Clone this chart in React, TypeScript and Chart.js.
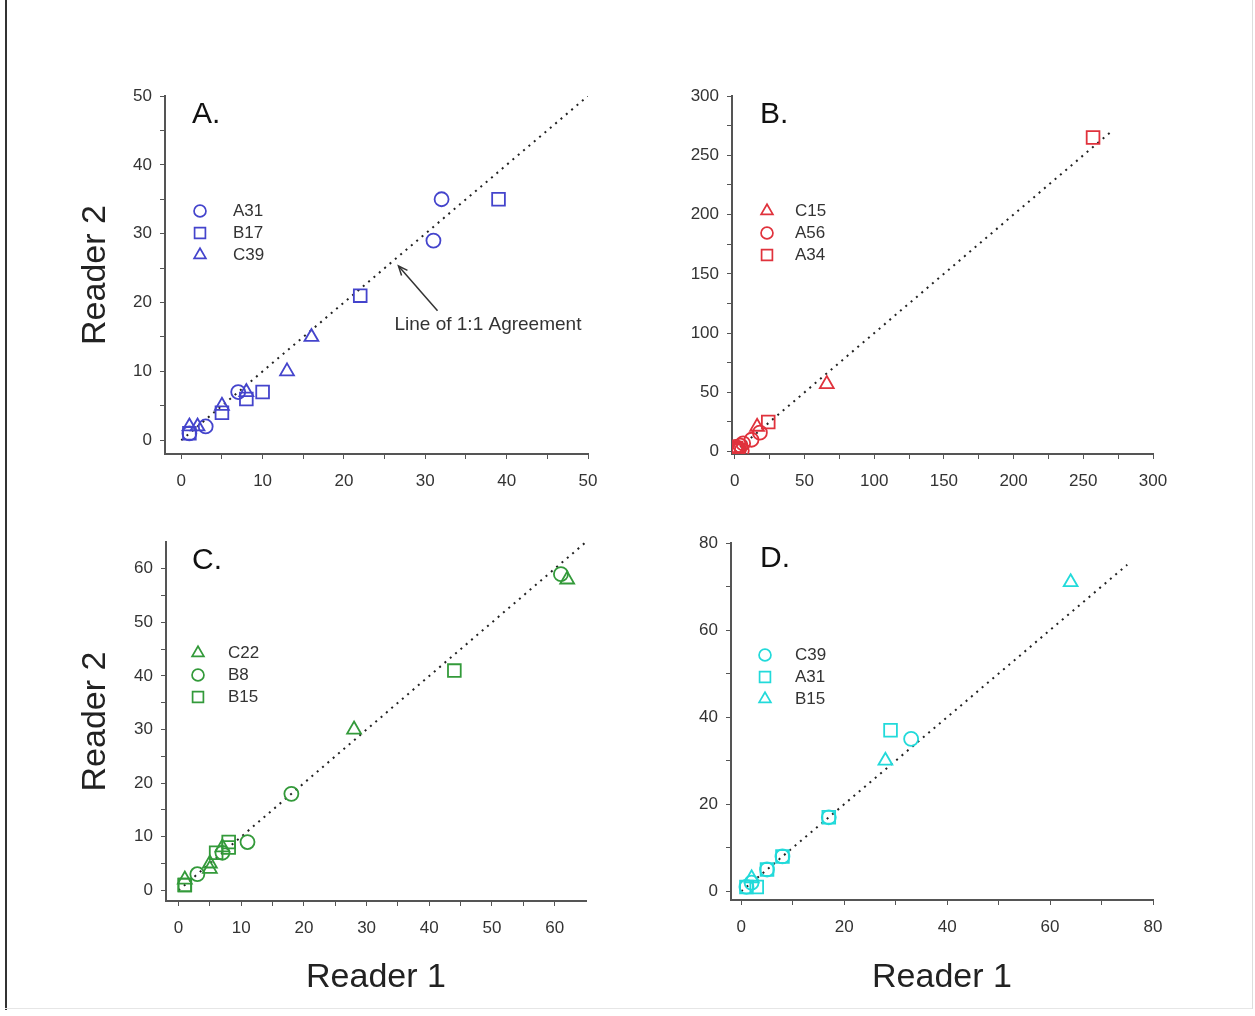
import React, { useEffect, useRef } from 'react';
import { Chart, registerables } from 'chart.js';

Chart.register(...registerables);

const W = 1255;
const H = 1016;
const FONT = '"Liberation Sans", Arial, Helvetica, sans-serif';

// ---------- Panel A ----------
const aA31X = [32, 31, 7, 3, 1];
const aA31Y = [35, 29, 7, 2, 1];
const aB17X = [39, 22, 10, 8, 5, 1];
const aB17Y = [35, 21, 7, 6, 4, 1];
const aC39X = [16, 13, 8, 5, 1, 2];
const aC39Y = [15, 10, 7, 5, 2, 2];
const aTicks = [0, 5, 10, 15, 20, 25, 30, 35, 40, 45, 50];

// ---------- Panel B ----------
const bC15X = [66, 16, 2];
const bC15Y = [57, 21, 3];
const bA56X = [18, 12, 6, 4, 3, 2, 1, 5, 0.5];
const bA56Y = [16, 10, 7, 5, 2, 3, 1, 1, 4];
const bA34X = [257, 24, 2, 1];
const bA34Y = [265, 25, 1, 3];
const bTicks = [0, 25, 50, 75, 100, 125, 150, 175, 200, 225, 250, 275, 300];

// ---------- Panel C ----------
const cC22X = [62, 28, 7, 5, 5, 1];
const cC22Y = [58, 30, 8, 5, 4, 2];
const cB8X = [61, 18, 11, 3, 7];
const cB8Y = [59, 18, 9, 3, 7];
const cB15X = [44, 8, 8, 6, 1, 1];
const cB15Y = [41, 9, 8, 7, 1, 1];
const cTicks = [0, 5, 10, 15, 20, 25, 30, 35, 40, 45, 50, 55, 60];

// ---------- Panel D ----------
const dC39X = [33, 17, 8, 5, 2, 1];
const dC39Y = [35, 17, 8, 5, 2, 1];
const dA31X = [29, 17, 8, 5, 3, 1];
const dA31Y = [37, 17, 8, 5, 1, 1];
const dB15X = [64, 28, 2];
const dB15Y = [71, 30, 3];
const dXTicks = [0, 10, 20, 30, 40, 50, 60, 70, 80];
const dYTicks = [0, 10, 20, 30, 40, 50, 60, 70, 80];

// 1:1 agreement line end values
const lineEndA = 50;
const lineEndB = 270;
const lineEndC = 65;
const lineEndD = 75;

// annotation in panel A (data coordinates)
const annotText = 'Line of 1:1 Agreement';
const annotTip = { x: 26.7, y: 25.3 };
const annotTail = { x: 31.5, y: 18.8 };
const annotLabel = { x: 37.7, y: 16.7 };

type Shape = 'circle' | 'rect' | 'triangle';
type Series = { label: string; shape: Shape; xs: number[]; ys: number[] };

const RADIUS: Record<Shape, number> = { circle: 7, rect: 9, triangle: 8 };

interface PanelCfg {
  letter: string;
  color: string;
  series: Series[];
  lineEnd: number;
  xMin: number; xMax: number; yMin: number; yMax: number;
  xTicks: number[]; yTicks: number[]; xMajor: number; yMajor: number;
  area: [number, number, number, number]; // L T R B
  yW: number; xH: number;
  yTitle?: string; xTitle?: string;
  letterOff: [number, number];
  legendOff: [number, number, number, number]; // markerDx, textDx, firstRowDy, rowStep
  annotation?: boolean;
}

const panels: PanelCfg[] = [
  {
    letter: 'A.', color: '#4444cc',
    series: [
      { label: 'A31', shape: 'circle', xs: aA31X, ys: aA31Y },
      { label: 'B17', shape: 'rect', xs: aB17X, ys: aB17Y },
      { label: 'C39', shape: 'triangle', xs: aC39X, ys: aC39Y },
    ],
    lineEnd: lineEndA,
    xMin: -2, xMax: 50, yMin: -2, yMax: 50,
    xTicks: aTicks, yTicks: aTicks, xMajor: 10, yMajor: 10,
    area: [165, 96, 588, 454], yW: 90, xH: 40,
    yTitle: 'Reader 2',
    letterOff: [27, 19], legendOff: [35, 68, 115, 22],
    annotation: true,
  },
  {
    letter: 'B.', color: '#e0323c',
    series: [
      { label: 'C15', shape: 'triangle', xs: bC15X, ys: bC15Y },
      { label: 'A56', shape: 'circle', xs: bA56X, ys: bA56Y },
      { label: 'A34', shape: 'rect', xs: bA34X, ys: bA34Y },
    ],
    lineEnd: lineEndB,
    xMin: -2, xMax: 300, yMin: -2, yMax: 300,
    xTicks: bTicks, yTicks: bTicks, xMajor: 50, yMajor: 50,
    area: [732, 96, 1153, 454], yW: 60, xH: 40,
    letterOff: [28, 19], legendOff: [35, 63, 115, 22],
  },
  {
    letter: 'C.', color: '#339a3a',
    series: [
      { label: 'C22', shape: 'triangle', xs: cC22X, ys: cC22Y },
      { label: 'B8', shape: 'circle', xs: cB8X, ys: cB8Y },
      { label: 'B15', shape: 'rect', xs: cB15X, ys: cB15Y },
    ],
    lineEnd: lineEndC,
    xMin: -2, xMax: 65, yMin: -2, yMax: 65,
    xTicks: cTicks, yTicks: cTicks, xMajor: 10, yMajor: 10,
    area: [166, 542, 586, 901], yW: 91, xH: 97,
    yTitle: 'Reader 2', xTitle: 'Reader 1',
    letterOff: [26, 19], legendOff: [32, 62, 111, 22],
  },
  {
    letter: 'D.', color: '#22dada',
    series: [
      { label: 'C39', shape: 'circle', xs: dC39X, ys: dC39Y },
      { label: 'A31', shape: 'rect', xs: dA31X, ys: dA31Y },
      { label: 'B15', shape: 'triangle', xs: dB15X, ys: dB15Y },
    ],
    lineEnd: lineEndD,
    xMin: -2, xMax: 80, yMin: -2, yMax: 80,
    xTicks: dXTicks, yTicks: dYTicks, xMajor: 20, yMajor: 20,
    area: [731, 543, 1153, 900], yW: 60, xH: 98,
    xTitle: 'Reader 1',
    letterOff: [29, 16], legendOff: [34, 64, 112, 22],
  },
];

function drawShape(ctx: CanvasRenderingContext2D, shape: Shape, x: number, y: number, r: number) {
  ctx.beginPath();
  if (shape === 'circle') {
    ctx.arc(x, y, r, 0, Math.PI * 2);
  } else if (shape === 'rect') {
    const s = r * Math.SQRT1_2;
    ctx.rect(x - s, y - s, 2 * s, 2 * s);
  } else {
    let a = 0;
    ctx.moveTo(x + Math.sin(a) * r, y - Math.cos(a) * r);
    a += (2 * Math.PI) / 3;
    ctx.lineTo(x + Math.sin(a) * r, y - Math.cos(a) * r);
    a += (2 * Math.PI) / 3;
    ctx.lineTo(x + Math.sin(a) * r, y - Math.cos(a) * r);
  }
  ctx.closePath();
  ctx.stroke();
}

const decorPlugin = {
  id: 'decor',
  afterDraw(chart: any, _args: any, opts: any) {
    const cfg: PanelCfg = opts.cfg;
    if (!cfg) return;
    const { ctx, chartArea } = chart;
    ctx.save();
    // panel letter
    ctx.fillStyle = '#111';
    ctx.font = `30px ${FONT}`;
    ctx.textAlign = 'left';
    ctx.textBaseline = 'middle';
    ctx.fillText(cfg.letter, chartArea.left + cfg.letterOff[0], chartArea.top + cfg.letterOff[1]);
    // legend
    const [mdx, tdx, fdy, step] = cfg.legendOff;
    cfg.series.forEach((s, i) => {
      const y = chartArea.top + fdy + i * step;
      ctx.strokeStyle = cfg.color;
      ctx.lineWidth = 1.7;
      drawShape(ctx, s.shape, chartArea.left + mdx, y, RADIUS[s.shape] * 0.85);
      ctx.fillStyle = '#333';
      ctx.font = `17px ${FONT}`;
      ctx.textAlign = 'left';
      ctx.textBaseline = 'middle';
      ctx.fillText(s.label, chartArea.left + tdx, y);
    });
    // annotation
    if (cfg.annotation) {
      const xs = chart.scales.x;
      const ys = chart.scales.y;
      const tx = xs.getPixelForValue(annotTip.x);
      const ty = ys.getPixelForValue(annotTip.y);
      const sx = xs.getPixelForValue(annotTail.x);
      const sy = ys.getPixelForValue(annotTail.y);
      ctx.strokeStyle = '#333';
      ctx.lineWidth = 1.5;
      ctx.beginPath();
      ctx.moveTo(sx, sy);
      ctx.lineTo(tx, ty);
      ctx.stroke();
      const ang = Math.atan2(ty - sy, tx - sx);
      const hl = 10;
      ctx.beginPath();
      ctx.moveTo(tx + Math.cos(ang + Math.PI - 0.4) * hl, ty + Math.sin(ang + Math.PI - 0.4) * hl);
      ctx.lineTo(tx, ty);
      ctx.lineTo(tx + Math.cos(ang + Math.PI + 0.4) * hl, ty + Math.sin(ang + Math.PI + 0.4) * hl);
      ctx.stroke();
      ctx.fillStyle = '#333';
      ctx.font = `19px ${FONT}`;
      ctx.textAlign = 'center';
      ctx.textBaseline = 'middle';
      ctx.fillText(annotText, xs.getPixelForValue(annotLabel.x), ys.getPixelForValue(annotLabel.y));
    }
    ctx.restore();
  },
};

function buildConfig(cfg: PanelCfg): any {
  const [L, T, R, B] = cfg.area;
  const padding = {
    left: L - cfg.yW,
    top: T,
    right: W - R,
    bottom: H - B - cfg.xH,
  };
  const datasets: any[] = cfg.series.map((s) => ({
    label: s.label,
    data: s.xs.map((x, i) => ({ x, y: s.ys[i] })),
    pointStyle: s.shape,
    pointRadius: RADIUS[s.shape],
    pointBorderWidth: 1.8,
    pointBorderColor: cfg.color,
    pointBackgroundColor: 'rgba(0,0,0,0)',
    showLine: false,
  }));
  datasets.push({
    label: '1:1',
    data: [{ x: 0, y: 0 }, { x: cfg.lineEnd, y: cfg.lineEnd }],
    showLine: true,
    pointRadius: 0,
    borderColor: '#222',
    borderWidth: 2,
    borderDash: [2, 5],
    fill: false,
  });
  const tickFont = { size: 17, family: FONT };
  const titleFont = { size: 34, family: FONT };
  return {
    type: 'scatter',
    data: { datasets },
    plugins: [decorPlugin],
    options: {
      responsive: false,
      animation: false,
      events: [],
      layout: { padding },
      plugins: {
        legend: { display: false },
        tooltip: { enabled: false },
        decor: { cfg },
      },
      scales: {
        x: {
          type: 'linear',
          min: cfg.xMin,
          max: cfg.xMax,
          afterBuildTicks: (s: any) => { s.ticks = cfg.xTicks.map((v) => ({ value: v })); },
          afterFit: (s: any) => { s.height = cfg.xH; },
          ticks: {
            autoSkip: false,
            maxRotation: 0,
            padding: 12,
            color: '#333',
            font: tickFont,
            callback: (v: any) => (Number(v) % cfg.xMajor === 0 ? String(v) : ''),
          },
          grid: {
            display: true,
            drawOnChartArea: false,
            drawTicks: true,
            tickLength: 5,
            tickColor: '#555',
          },
          border: { display: true, color: '#555', width: 2 },
          title: cfg.xTitle
            ? { display: true, text: cfg.xTitle, color: '#222', font: titleFont, padding: 0 }
            : { display: false },
        },
        y: {
          type: 'linear',
          min: cfg.yMin,
          max: cfg.yMax,
          afterBuildTicks: (s: any) => { s.ticks = cfg.yTicks.map((v) => ({ value: v })); },
          afterFit: (s: any) => { s.width = cfg.yW; },
          ticks: {
            autoSkip: false,
            padding: 8,
            color: '#333',
            font: tickFont,
            callback: (v: any) => (Number(v) % cfg.yMajor === 0 ? String(v) : ''),
          },
          grid: {
            display: true,
            drawOnChartArea: false,
            drawTicks: true,
            tickLength: 5,
            tickColor: '#555',
          },
          border: { display: true, color: '#555', width: 2 },
          title: cfg.yTitle
            ? { display: true, text: cfg.yTitle, color: '#222', font: titleFont, padding: 0 }
            : { display: false },
        },
      },
    },
  };
}

function Panel({ cfg }: { cfg: PanelCfg }) {
  const ref = useRef<HTMLCanvasElement | null>(null);
  useEffect(() => {
    if (!ref.current) return;
    const chart = new Chart(ref.current, buildConfig(cfg));
    return () => chart.destroy();
  }, [cfg]);
  return (
    <canvas
      ref={ref}
      width={W}
      height={H}
      style={{ position: 'absolute', left: 0, top: 0, width: W, height: H, pointerEvents: 'none' }}
    />
  );
}

export default function App() {
  return (
    <div style={{ position: 'absolute', left: 0, top: 0, width: W, height: H, background: '#fff', overflow: 'hidden' }}>
      <div style={{ position: 'absolute', left: 5, top: 0, width: 2, height: 1010, background: '#333' }} />
      <div style={{ position: 'absolute', left: 5, top: 1008, width: 1248, height: 1, background: '#e6e6e6' }} />
      <div style={{ position: 'absolute', left: 1252, top: 0, width: 1, height: 1009, background: '#dddddd' }} />
      {panels.map((p) => (
        <Panel key={p.letter} cfg={p} />
      ))}
    </div>
  );
}
